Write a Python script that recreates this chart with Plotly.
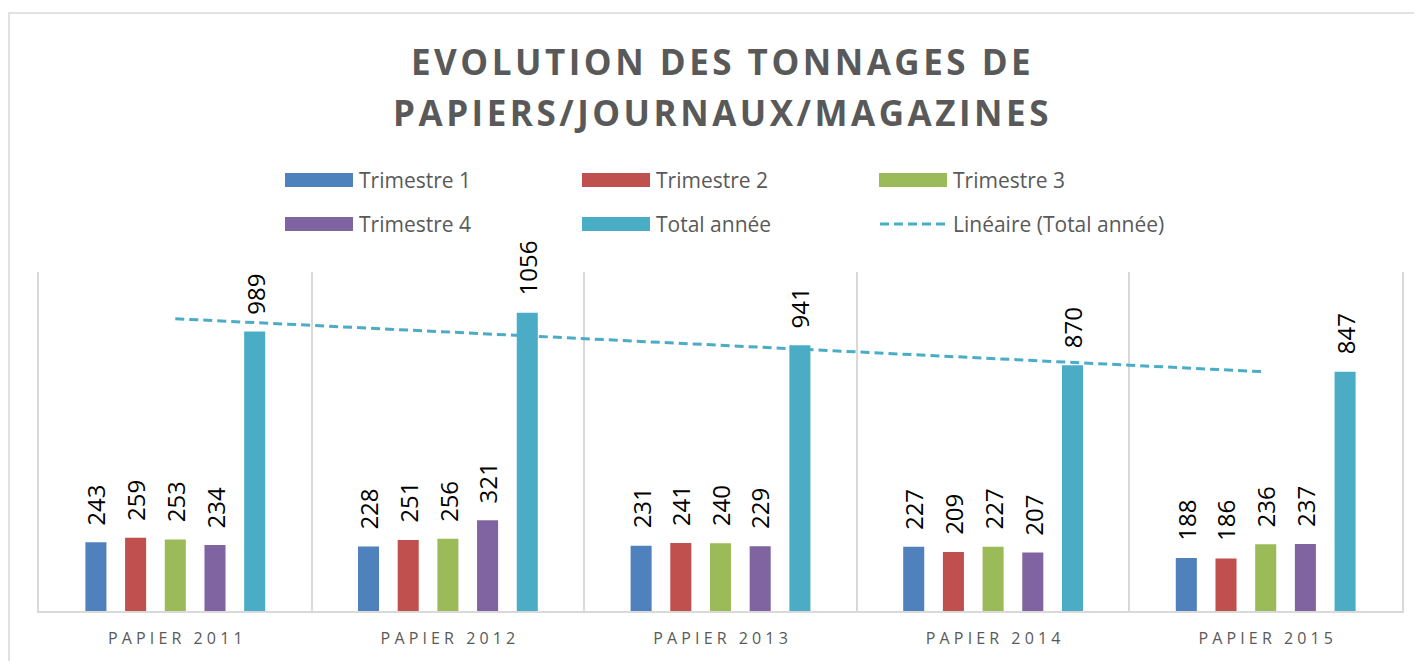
import numpy as np
import plotly.graph_objects as go

categories = ["PAPIER 2011", "PAPIER 2012", "PAPIER 2013", "PAPIER 2014", "PAPIER 2015"]
trim1 = [243, 228, 231, 227, 188]
trim2 = [259, 251, 241, 209, 186]
trim3 = [253, 256, 240, 227, 236]
trim4 = [234, 321, 229, 207, 237]
total = [989, 1056, 941, 870, 847]

series = [
    ("Trimestre 1", trim1, "#4f81bd"),
    ("Trimestre 2", trim2, "#c0504d"),
    ("Trimestre 3", trim3, "#9bbb59"),
    ("Trimestre 4", trim4, "#8064a2"),
    ("Total année", total, "#4bacc6"),
]

# page has an 8px body margin, so the figure is drawn shifted by 8px
OFF = 8
W, H = 1422 - OFF, 661 - OFF
L, R, T, B = 39 - OFF, 20, 272 - OFF, 50
PW, PH = W - L - R, H - T - B
BARGAP = 0.272


def px_x(px):
    # px given in screen coordinates
    return (px - OFF - L) / PW


def px_y(py):
    return (H - B - (py - OFF)) / PH


GREY = "#595959"
FONT = "Open Sans"
HS = "\u200a"


def spaced(s, sep):
    return sep.join(s)


fig = go.Figure()

for name, vals, col in series:
    fig.add_trace(go.Bar(x=categories, y=vals, name=name, marker_color=col,
                         marker_line_width=0, showlegend=False))

# linear trendline on total
xi = np.arange(1, len(total) + 1)
slope, icpt = np.polyfit(xi, total, 1)
fig.add_trace(go.Scatter(x=categories, y=slope * xi + icpt, mode="lines",
                         line=dict(color="#4bacc6", width=3, dash="9px,5px"),
                         showlegend=False, hoverinfo="skip"))

# rotated value labels
ann = []
slot = (1 - BARGAP) / len(series)
for si, (name, vals, col) in enumerate(series):
    for ci, v in enumerate(vals):
        ann.append(dict(x=ci + (si - 2) * slot, y=v, xref="x", yref="y",
                        text=str(v), showarrow=False, textangle=-90,
                        yanchor="bottom", xanchor="center", yshift=15,
                        font=dict(family=FONT, size=24, color="black")))

# title (two lines, letter spaced)
for line, yc in (("EVOLUTION DES TONNAGES DE", 62), ("PAPIERS/JOURNAUX/MAGAZINES", 112)):
    ann.append(dict(x=0.5, xref="paper", y=px_y(yc), yref="paper",
                    text="<b>" + spaced(line, HS) + "</b>",
                    showarrow=False, xanchor="center", yanchor="middle",
                    font=dict(family=FONT, size=35, color=GREY)))

# manual legend
shapes = []
leg = [
    ("Trimestre 1", "#4f81bd", 285, 180, "bar"),
    ("Trimestre 2", "#c0504d", 582, 180, "bar"),
    ("Trimestre 3", "#9bbb59", 879, 180, "bar"),
    ("Trimestre 4", "#8064a2", 285, 224, "bar"),
    ("Total année", "#4bacc6", 582, 224, "bar"),
    ("Linéaire (Total année)", "#4bacc6", 879, 224, "line"),
]
for text, col, x0, yc, kind in leg:
    if kind == "bar":
        shapes.append(dict(type="rect", xref="paper", yref="paper",
                           x0=px_x(x0), x1=px_x(x0 + 68), y0=px_y(yc - 7), y1=px_y(yc + 7),
                           fillcolor=col, line_width=0))
    else:
        shapes.append(dict(type="line", xref="paper", yref="paper",
                           x0=px_x(x0 + 1), x1=px_x(x0 + 68), y0=px_y(yc), y1=px_y(yc),
                           line=dict(color=col, width=3, dash="9px,5px")))
    ann.append(dict(x=px_x(x0 + 72), y=px_y(yc), xref="paper", yref="paper",
                    text=text, showarrow=False, xanchor="left", yanchor="middle",
                    font=dict(family=FONT, size=21, color=GREY)))

# outer chart border
shapes.append(dict(type="rect", xref="paper", yref="paper",
                   x0=px_x(9), x1=px_x(1421), y0=px_y(700), y1=px_y(13),
                   line=dict(color="#d9d9d9", width=1.5), fillcolor="rgba(0,0,0,0)"))

ticktext = ["\u2002 ".join(spaced(w, " ") for w in c.split(" ")) for c in categories]

fig.update_layout(
    width=W, height=H,
    margin=dict(l=L, r=R, t=T, b=B),
    paper_bgcolor="white", plot_bgcolor="white",
    barmode="group", bargap=BARGAP, bargroupgap=0.47,
    annotations=ann, shapes=shapes,
    xaxis=dict(type="category", tickson="boundaries", showgrid=True,
               gridcolor="#d9d9d9", gridwidth=1.5, showline=True,
               linecolor="#d9d9d9", linewidth=1.5, ticks="",
               tickmode="array", tickvals=categories, ticktext=ticktext,
               tickfont=dict(family=FONT, size=16, color=GREY),
               ticklabelstandoff=12),
    yaxis=dict(range=[0, 1200], showgrid=False, zeroline=False,
               showticklabels=False, showline=True, mirror=True,
               linecolor="#d9d9d9", linewidth=1.5),
    showlegend=False,
)

fig.write_html("out.html")
